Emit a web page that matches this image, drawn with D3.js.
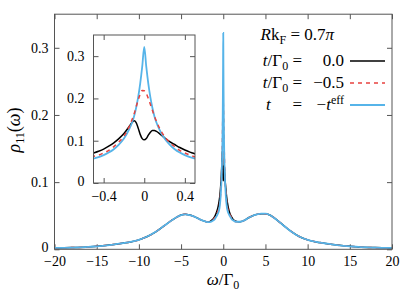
<!DOCTYPE html>
<html>
<head>
<meta charset="utf-8">
<script src="https://cdn.jsdelivr.net/npm/d3@7"></script>
<style>
  body { margin: 0; background: #fff; }
</style>
</head>
<body>
<svg id="chart" width="415" height="291"></svg>
<script>
// omega / Gamma0 grid (dense near 0 so the inset can reuse it)
const omega = [-20, -18, -16, -15, -14, -13, -12, -11, -10, -9, -8, -7, -6, -5.5, -5, -4.5, -4, -3.5, -3, -2.5,
  -2, -1.8, -1.5, -1.2, -1, -0.8, -0.6, -0.5, -0.45, -0.4, -0.35, -0.3, -0.25, -0.2, -0.15, -0.12, -0.1, -0.08, -0.06, -0.04,
  -0.02, 0, 0.02, 0.04, 0.06, 0.08, 0.1, 0.12, 0.15, 0.2, 0.25, 0.3, 0.35, 0.4, 0.45, 0.5, 0.6, 0.8, 1, 1.2,
  1.5, 1.8, 2, 2.5, 3, 3.5, 4, 4.5, 5, 5.5, 6, 7, 8, 9, 10, 11, 12, 13, 14, 15, 16, 18, 20];

// t/Gamma0 = 0.0
const rhoT0 = [0.002, 0.0025, 0.0035, 0.0045, 0.0055, 0.007, 0.009, 0.011, 0.014, 0.019, 0.026, 0.035, 0.044, 0.048, 0.051, 0.052, 0.051, 0.049, 0.046, 0.043,
  0.041, 0.0405, 0.042, 0.045, 0.049, 0.055, 0.064, 0.071, 0.075, 0.080, 0.087, 0.095, 0.105, 0.117, 0.133, 0.143, 0.147, 0.143, 0.130, 0.115,
  0.105, 0.102, 0.105, 0.113, 0.120, 0.124, 0.124, 0.122, 0.117, 0.107, 0.098, 0.091, 0.084, 0.078, 0.073, 0.069, 0.062, 0.053, 0.048, 0.044,
  0.042, 0.041, 0.041, 0.043, 0.047, 0.050, 0.052, 0.053, 0.053, 0.051, 0.047, 0.037, 0.027, 0.019, 0.014, 0.011, 0.009, 0.007, 0.0055, 0.0045, 0.0035, 0.0025, 0.002];

// t/Gamma0 = -0.5
const rhoTm05 = [0.002, 0.0025, 0.0035, 0.0045, 0.0055, 0.007, 0.009, 0.011, 0.014, 0.019, 0.026, 0.035, 0.044, 0.048, 0.051, 0.052, 0.051, 0.049, 0.046, 0.043,
  0.041, 0.0405, 0.041, 0.044, 0.047, 0.052, 0.058, 0.063, 0.066, 0.071, 0.077, 0.086, 0.097, 0.111, 0.132, 0.150, 0.163, 0.180, 0.196, 0.210,
  0.219, 0.218, 0.212, 0.200, 0.186, 0.172, 0.158, 0.146, 0.130, 0.110, 0.096, 0.086, 0.077, 0.071, 0.066, 0.062, 0.057, 0.051, 0.047, 0.044,
  0.041, 0.041, 0.041, 0.043, 0.047, 0.050, 0.052, 0.053, 0.053, 0.051, 0.047, 0.037, 0.027, 0.019, 0.014, 0.011, 0.009, 0.007, 0.0055, 0.0045, 0.0035, 0.0025, 0.002];

// t = -t^eff
const rhoTeff = [0.002, 0.0025, 0.0035, 0.0045, 0.0055, 0.007, 0.009, 0.011, 0.014, 0.019, 0.026, 0.035, 0.044, 0.048, 0.051, 0.052, 0.051, 0.049, 0.046, 0.043,
  0.041, 0.0405, 0.041, 0.043, 0.045, 0.049, 0.054, 0.058, 0.061, 0.066, 0.072, 0.080, 0.091, 0.105, 0.126, 0.143, 0.158, 0.178, 0.203, 0.235,
  0.275, 0.322, 0.275, 0.235, 0.203, 0.178, 0.158, 0.143, 0.126, 0.105, 0.091, 0.080, 0.072, 0.066, 0.061, 0.058, 0.054, 0.049, 0.045, 0.043,
  0.041, 0.041, 0.041, 0.043, 0.047, 0.050, 0.052, 0.053, 0.053, 0.051, 0.047, 0.037, 0.027, 0.019, 0.014, 0.011, 0.009, 0.007, 0.0055, 0.0045, 0.0035, 0.0025, 0.002];

const xTicks = [-20, -15, -10, -5, 0, 5, 10, 15, 20];
const yTicks = [0, 0.1, 0.2, 0.3];
const insetXTicks = [-0.4, 0, 0.4];
const insetYTicks = [0, 0.1, 0.2, 0.3];

const series = [
  { values: rhoT0, color: '#000000', width: 1.5, dash: null },
  { values: rhoTm05, color: '#e8423f', width: 1.5, dash: '4,4' },
  { values: rhoTeff, color: '#56b4e9', width: 1.8, dash: null }
];

const serif = 'Liberation Serif';
const svg = d3.select('#chart');
const frameColor = '#555';
const fontSize = 14;

const fmtY = d => d === 0 ? '0' : d3.format('.1f')(d);

function drawPanel(g, x, y, xt, yt, fmtX, opts) {
  const [x0, x1] = x.range();
  const [y0, y1] = y.range();

  // bottom axis with labels, top axis mirrored
  g.append('g')
    .attr('transform', `translate(0,${y0})`)
    .call(d3.axisBottom(x).tickValues(xt).tickFormat(fmtX).tickSizeInner(-5).tickSizeOuter(0).tickPadding(opts.padX))
    .call(a => a.select('.domain').remove());
  g.append('g')
    .attr('transform', `translate(0,${y1})`)
    .call(d3.axisTop(x).tickValues(xt).tickFormat('').tickSizeInner(-5).tickSizeOuter(0))
    .call(a => a.select('.domain').remove());

  g.append('g')
    .attr('transform', `translate(${x0},0)`)
    .call(d3.axisLeft(y).tickValues(yt).tickFormat(fmtY).tickSizeInner(-5).tickSizeOuter(0).tickPadding(opts.padY))
    .call(a => a.select('.domain').remove())
    .call(a => a.selectAll('.tick text').filter(d => d === 0).attr('dy', '0.15em'));
  g.append('g')
    .attr('transform', `translate(${x1},0)`)
    .call(d3.axisRight(y).tickValues(yt).tickFormat('').tickSizeInner(-5).tickSizeOuter(0))
    .call(a => a.select('.domain').remove());

  g.selectAll('.tick line').attr('stroke', frameColor);
  g.selectAll('.tick text')
    .attr('font-family', serif)
    .attr('font-size', fontSize)
    .attr('fill', '#000');
}

// ---------- main panel ----------
const x = d3.scaleLinear().domain([-20, 20]).range([54.5, 392]);
const y = d3.scaleLinear().domain([0, 0.35]).range([249.3, 14.2]);

const main = svg.append('g');
drawPanel(main, x, y, xTicks, yTicks, d3.format('d'), { padX: 7, padY: 6 });

const line = d3.line()
  .x((d, i) => x(omega[i]))
  .y(d => y(d))
  .curve(d3.curveMonotoneX);

series.forEach(s => {
  main.append('path')
    .datum(s.values)
    .attr('fill', 'none')
    .attr('stroke', s.color)
    .attr('stroke-width', s.width)
    .attr('stroke-dasharray', s.dash)
    .attr('d', line);
});

main.append('rect')
  .attr('x', 54.5).attr('y', 14.2)
  .attr('width', 392 - 54.5).attr('height', 249.3 - 14.2)
  .attr('fill', 'none').attr('stroke', frameColor).attr('stroke-width', 1);

// axis titles
svg.append('text')
  .attr('x', 223).attr('y', 285)
  .attr('text-anchor', 'middle')
  .attr('font-family', serif)
  .attr('font-size', 17)
  .call(t => {
    t.append('tspan').attr('font-style', 'italic').text('ω');
    t.append('tspan').text('/Γ');
    t.append('tspan').attr('dy', 4).attr('font-size', 12).text('0');
  });

svg.append('text')
  .attr('transform', 'translate(20,130) rotate(-90)')
  .attr('text-anchor', 'middle')
  .attr('font-family', serif)
  .attr('font-size', 18)
  .call(t => {
    t.append('tspan').attr('font-style', 'italic').text('ρ');
    t.append('tspan').attr('dy', 4).attr('font-size', 12).text('11');
    t.append('tspan').attr('dy', -4).text('(');
    t.append('tspan').attr('font-style', 'italic').text('ω');
    t.append('tspan').text(')');
  });

// ---------- inset ----------
const xi = d3.scaleLinear().domain([-0.5, 0.5]).range([93.5, 195]);
const yi = d3.scaleLinear().domain([0, 0.35]).range([183, 35]);

const inset = svg.append('g');
inset.append('rect')
  .attr('x', 93.5).attr('y', 35)
  .attr('width', 195 - 93.5).attr('height', 183 - 35)
  .attr('fill', '#fff');

inset.append('clipPath').attr('id', 'insetClip')
  .append('rect')
  .attr('x', 93.5).attr('y', 35)
  .attr('width', 195 - 93.5).attr('height', 183 - 35);

drawPanel(inset, xi, yi, insetXTicks, insetYTicks, d => d === 0 ? '0' : d3.format('.1f')(d), { padX: 8, padY: 9 });

const idx = omega.map((w, i) => i).filter(i => Math.abs(omega[i]) <= 0.6);
const lineInset = d3.line()
  .x(i => xi(omega[i]))
  .curve(d3.curveMonotoneX);

const insetOrder = [series[0], series[2], series[1]];
insetOrder.forEach(s => {
  inset.append('path')
    .datum(idx)
    .attr('clip-path', 'url(#insetClip)')
    .attr('fill', 'none')
    .attr('stroke', s.color)
    .attr('stroke-width', s.width)
    .attr('stroke-dasharray', s.dash)
    .attr('d', lineInset.y(i => yi(s.values[i])));
});

inset.append('rect')
  .attr('x', 93.5).attr('y', 35)
  .attr('width', 195 - 93.5).attr('height', 183 - 35)
  .attr('fill', 'none').attr('stroke', frameColor).attr('stroke-width', 1);

// ---------- legend ----------
const legend = svg.append('g').attr('font-family', serif).attr('font-size', 17);

legend.append('text')
  .attr('x', 334).attr('y', 40)
  .attr('text-anchor', 'end')
  .call(t => {
    t.append('tspan').attr('font-style', 'italic').text('R');
    t.append('tspan').text('k');
    t.append('tspan').attr('dy', 4).attr('font-size', 12).text('F');
    t.append('tspan').attr('dy', -4).text(' = 0.7');
    t.append('tspan').attr('font-style', 'italic').text('π');
  });

const legendRows = [
  { label: 't0', value: '0.0', y: 66 },
  { label: 't0', value: '−0.5', y: 88 },
  { label: 'teff', value: '', y: 110 }
];

legendRows.forEach((r, k) => {
  const s = series[k];
  if (r.label === 't0') {
    legend.append('text')
      .attr('x', 302).attr('y', r.y)
      .attr('text-anchor', 'end')
      .call(t => {
        t.append('tspan').attr('font-style', 'italic').text('t');
        t.append('tspan').text('/Γ');
        t.append('tspan').attr('dy', 4).attr('font-size', 12).text('0');
        t.append('tspan').attr('dy', -4).text(' =');
      });
    legend.append('text')
      .attr('x', 344).attr('y', r.y)
      .attr('text-anchor', 'end')
      .text(r.value);
  } else {
    legend.append('text')
      .attr('x', 266).attr('y', r.y)
      .attr('font-style', 'italic')
      .text('t');
    legend.append('text')
      .attr('x', 302).attr('y', r.y)
      .attr('text-anchor', 'end')
      .text('=');
    legend.append('text')
      .attr('x', 344).attr('y', r.y)
      .attr('text-anchor', 'end')
      .call(t => {
        t.append('tspan').text('−');
        t.append('tspan').attr('font-style', 'italic').text('t');
        t.append('tspan').attr('dy', -6).attr('font-size', 12).text('eff');
      });
  }
  legend.append('line')
    .attr('x1', 350).attr('x2', 385)
    .attr('y1', r.y - 5).attr('y2', r.y - 5)
    .attr('stroke', s.color)
    .attr('stroke-width', s.width)
    .attr('stroke-dasharray', s.dash);
});
</script>
</body>
</html>
